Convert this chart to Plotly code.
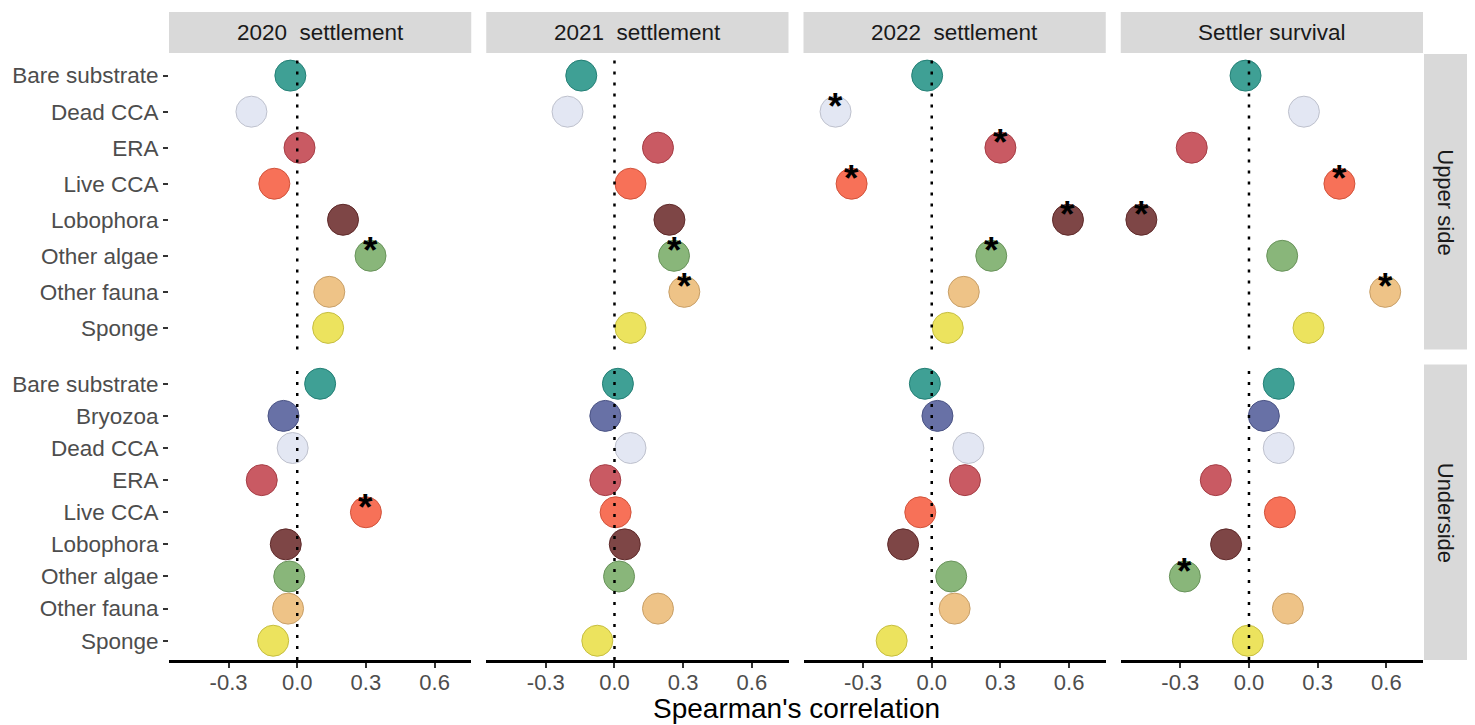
import plotly.graph_objects as go
from plotly.subplots import make_subplots

# ---------------- data ----------------
panel_titles = ["2020\u00a0 settlement", "2021\u00a0 settlement", "2022\u00a0 settlement", "Settler survival"]
row_titles = ["Upper side", "Underside"]

upper_cats = ["Bare substrate", "Dead CCA", "ERA", "Live CCA", "Lobophora",
              "Other algae", "Other fauna", "Sponge"]
under_cats = ["Bare substrate", "Bryozoa", "Dead CCA", "ERA", "Live CCA", "Lobophora",
              "Other algae", "Other fauna", "Sponge"]

upper_2020 = [-0.03, -0.20, 0.01, -0.10, 0.20, 0.32, 0.14, 0.135]
upper_2021 = [-0.145, -0.205, 0.19, 0.07, 0.24, 0.26, 0.305, 0.07]
upper_2022 = [-0.02, -0.42, 0.30, -0.35, 0.595, 0.26, 0.14, 0.07]
upper_surv = [-0.015, 0.24, -0.25, 0.395, -0.47, 0.145, 0.595, 0.26]

under_2020 = [0.10, -0.06, -0.02, -0.155, 0.30, -0.05, -0.035, -0.04, -0.105]
under_2021 = [0.015, -0.04, 0.07, -0.04, 0.005, 0.045, 0.02, 0.19, -0.075]
under_2022 = [-0.03, 0.025, 0.16, 0.145, -0.05, -0.125, 0.085, 0.10, -0.175]
under_surv = [0.13, 0.065, 0.13, -0.145, 0.135, -0.10, -0.28, 0.17, -0.005]

upper_2020_sig = ["Other algae"]
upper_2021_sig = ["Other algae", "Other fauna"]
upper_2022_sig = ["Dead CCA", "ERA", "Live CCA", "Lobophora", "Other algae"]
upper_surv_sig = ["Live CCA", "Lobophora", "Other fauna"]
under_2020_sig = ["Live CCA"]
under_2021_sig = []
under_2022_sig = []
under_surv_sig = ["Other algae"]

x_ticks = [-0.3, 0.0, 0.3, 0.6]
x_tick_text = ["-0.3", "0.0", "0.3", "0.6"]
x_limits = [-0.56, 0.76]

cat_colors = {
    "Bare substrate": (42, 150, 138),
    "Bryozoa": (88, 98, 156),
    "Dead CCA": (224, 228, 242),
    "ERA": (195, 72, 82),
    "Live CCA": (246, 98, 70),
    "Lobophora": (112, 50, 50),
    "Other algae": (124, 174, 108),
    "Other fauna": (236, 188, 122),
    "Sponge": (234, 224, 76),
}

# ---------------- figure ----------------
grid = [
    [(upper_2020, upper_2020_sig), (upper_2021, upper_2021_sig),
     (upper_2022, upper_2022_sig), (upper_surv, upper_surv_sig)],
    [(under_2020, under_2020_sig), (under_2021, under_2021_sig),
     (under_2022, under_2022_sig), (under_surv, under_surv_sig)],
]
row_cats = [upper_cats, under_cats]

# the page body adds an 8px offset on the left and top
W, H = 1467, 717
ml, mr, mt, mb = 161, 52, 46, 65
pw, ph = W - ml - mr, H - mt - mb

fig = make_subplots(rows=2, cols=4, horizontal_spacing=15 / pw, vertical_spacing=15 / ph)

font_family = "Liberation Sans, Arial, sans-serif"
annotations = []
shapes = []

for r in range(2):
    cats = row_cats[r]
    for c in range(4):
        vals, sig = grid[r][c]
        idx = r * 4 + c + 1
        xref = "x" if idx == 1 else f"x{idx}"
        yref = "y" if idx == 1 else f"y{idx}"
        fill = [f"rgba({cat_colors[k][0]},{cat_colors[k][1]},{cat_colors[k][2]},0.9)" for k in cats]
        edge = [f"rgb({int(cat_colors[k][0]*0.85)},{int(cat_colors[k][1]*0.85)},{int(cat_colors[k][2]*0.85)})" for k in cats]
        fig.add_trace(go.Scatter(
            x=vals, y=cats, mode="markers",
            marker=dict(size=31, color=fill, line=dict(color=edge, width=1)),
            showlegend=False, hoverinfo="x+y",
        ), row=r + 1, col=c + 1)
        # zero reference line
        shapes.append(dict(type="line", xref=xref, yref=f"{yref} domain",
                           x0=0, x1=0, y0=0, y1=1,
                           line=dict(color="black", width=2.5, dash="3px,8px"),
                           layer="above"))
        # significance stars
        for k, v in zip(cats, vals):
            if k in sig:
                annotations.append(dict(x=v, y=k, xref=xref, yref=yref, text="<b>*</b>",
                                        showarrow=False, yshift=5,
                                        xanchor="center", yanchor="middle",
                                        font=dict(size=37, color="black", family=font_family)))
        fig.update_xaxes(row=r + 1, col=c + 1, range=x_limits, tickvals=x_ticks,
                         ticktext=x_tick_text, showgrid=False, zeroline=False,
                         showticklabels=(r == 1), ticks="outside" if r == 1 else "",
                         ticklen=5, tickwidth=2, tickcolor="#333333",
                         ticklabelstandoff=-4,
                         showline=(r == 1), linecolor="black", linewidth=2.5,
                         tickfont=dict(size=22, color="#4D4D4D", family=font_family))
        fig.update_yaxes(row=r + 1, col=c + 1, type="category", categoryarray=cats,
                         range=[len(cats) - 0.4, -0.6], showgrid=False, zeroline=False,
                         showline=False, showticklabels=(c == 0),
                         ticks="outside" if c == 0 else "", ticklen=5, tickwidth=2,
                         tickcolor="#333333",
                         tickfont=dict(size=22.5, color="#4D4D4D", family=font_family))

# column strips
for c in range(4):
    dom = fig.layout[f"xaxis{'' if c == 0 else c + 1}"].domain
    shapes.append(dict(type="rect", xref="paper", yref="paper",
                       x0=dom[0], x1=dom[1], y0=1 + 1 / ph, y1=1 + 42 / ph,
                       fillcolor="#D9D9D9", line=dict(width=0), layer="below"))
    annotations.append(dict(x=(dom[0] + dom[1]) / 2, y=1 + 21.5 / ph, xref="paper", yref="paper",
                            text=panel_titles[c], showarrow=False,
                            xanchor="center", yanchor="middle",
                            font=dict(size=22.5, color="#1A1A1A", family=font_family)))
# row strips
for r in range(2):
    dom = fig.layout[f"yaxis{'' if r == 0 else 5}"].domain
    shapes.append(dict(type="rect", xref="paper", yref="paper",
                       x0=1 + 1 / pw, x1=1 + 44 / pw, y0=dom[0], y1=dom[1],
                       fillcolor="#D9D9D9", line=dict(width=0), layer="below"))
    annotations.append(dict(x=1 + 22.5 / pw, y=(dom[0] + dom[1]) / 2, xref="paper", yref="paper",
                            text=row_titles[r], showarrow=False, textangle=90,
                            xanchor="center", yanchor="middle",
                            font=dict(size=22, color="#1A1A1A", family=font_family)))

# x title
annotations.append(dict(x=0.5, y=-48 / ph, xref="paper", yref="paper",
                        text="Spearman's correlation", showarrow=False,
                        xanchor="center", yanchor="middle",
                        font=dict(size=28, color="black", family=font_family)))

fig.update_layout(
    width=W, height=H,
    margin=dict(l=ml, r=mr, t=mt, b=mb, autoexpand=False),
    paper_bgcolor="white", plot_bgcolor="white",
    shapes=shapes, annotations=annotations,
    font=dict(family=font_family),
)

fig.write_html("out.html")
